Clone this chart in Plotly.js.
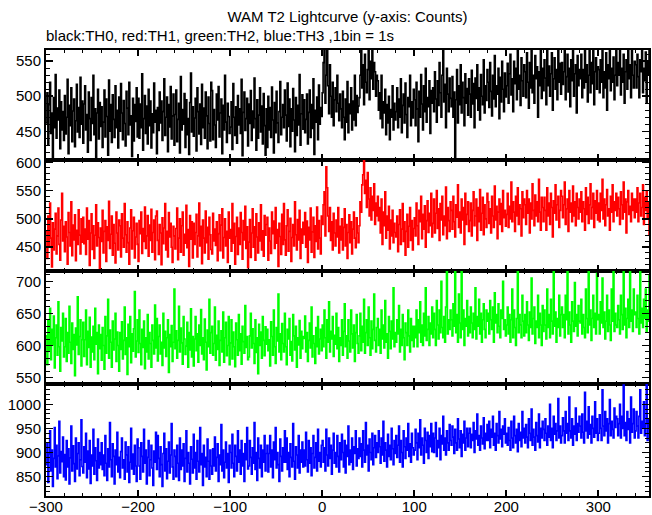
<!DOCTYPE html>
<html>
<head>
<meta charset="utf-8">
<script src="https://cdn.plot.ly/plotly-3.0.1.min.js"></script>
<style>html,body{margin:0;padding:0;background:#fff;}#chart{width:652px;height:515px;}</style>
</head>
<body>
<div id="chart"></div>
<script>
// Time bins start at -300 s, 1 bin = 1 s
var tStart = -300;
var th0 = [
462,505,431,488,520,447,476,413,498,455,531,440,483,466,509,425,492,452,478,437,
501,446,470,524,418,487,458,512,435,479,496,428,465,517,449,484,441,527,460,493,
433,489,515,452,474,420,506,468,437,498,461,530,445,482,412,476,510,439,491,457,
485,427,463,509,442,496,471,416,523,450,488,434,502,467,441,515,455,480,426,499,
450,518,476,438,494,461,429,507,483,445,520,459,472,414,497,436,488,464,512,442,
497,440,489,455,532,423,468,501,447,486,432,510,458,493,426,475,448,519,463,480,
418,484,451,506,462,493,437,478,525,444,470,499,421,488,456,514,439,472,503,430,
474,509,435,467,490,419,528,452,481,460,504,427,495,445,468,417,491,533,449,485,
443,469,497,422,512,478,446,489,431,517,455,483,440,506,472,425,499,461,436,520,
508,438,481,459,427,503,466,514,442,476,496,418,487,452,530,463,434,490,471,447,
456,492,424,518,470,444,485,433,501,459,482,447,524,415,477,506,451,468,497,429,
489,461,508,437,479,455,526,468,423,495,440,473,512,449,486,432,504,458,416,482,
427,500,452,484,441,513,466,419,491,448,507,462,434,478,521,445,470,488,455,509,
473,436,519,457,496,428,482,450,511,466,421,498,444,487,459,531,430,475,502,453,
495,448,467,503,432,477,509,441,488,454,525,417,480,463,499,438,516,460,484,471,
505,548,572,490,530,580,515,475,545,500,470,520,458,495,512,478,530,490,465,503,
482,455,507,470,438,496,463,521,448,489,475,512,452,493,466,530,458,501,477,486,
498,530,575,512,545,488,560,520,505,538,578,495,550,525,582,510,548,535,500,530,
522,480,505,468,530,455,492,476,510,445,488,462,500,438,481,470,515,452,490,466,
478,512,455,496,470,525,448,487,503,462,519,474,441,498,485,530,458,492,469,510,
495,458,520,482,435,507,470,531,489,452,515,478,540,463,498,485,522,447,508,490,
512,478,535,496,463,522,487,548,505,470,530,582,492,517,455,540,503,478,526,497,
485,528,470,506,412,495,538,462,515,488,545,476,520,498,458,532,490,511,473,525,
503,470,537,489,518,455,526,497,545,480,512,466,531,500,488,552,476,515,494,538,
520,484,548,507,472,530,496,558,485,515,503,540,468,527,492,550,510,478,533,499,
515,547,490,532,560,502,525,478,550,518,540,495,572,510,530,487,555,522,500,545,
535,498,562,520,483,548,512,575,505,530,490,558,525,542,470,535,515,565,497,540,
508,552,526,488,570,515,543,500,532,562,480,525,555,510,538,495,578,520,547,503,
548,517,535,575,495,528,560,506,540,485,552,522,568,500,532,545,476,558,515,538,
525,560,498,538,512,580,520,545,492,530,565,505,548,518,575,488,535,555,510,542,
538,505,552,520,570,498,535,512,562,480,545,525,578,508,540,520,556,495,530,565,
515,548,530,575,502,540,520,560,490,535,552,510,572,525,545,498,565,530,512,550,
545,512,560,528,498,552,535,570,505,540,522,563,490,548,530,575,510,538,520,555
];
var th1 = [
478,430,505,452,528,466,415,493,445,482,510,438,470,519,455,427,498,545,461,487,
442,495,468,420,511,476,452,530,435,489,463,507,426,480,455,516,471,438,500,459,
503,456,482,437,519,464,497,418,475,509,446,488,430,471,525,452,493,467,412,484,
460,515,440,478,497,425,486,462,531,448,473,505,436,490,457,422,512,475,445,498,
488,433,509,466,450,527,472,441,495,458,420,484,516,447,479,503,431,468,492,455,
425,497,474,512,439,483,460,521,448,470,506,434,489,462,517,441,476,498,428,505,
514,462,437,490,475,419,502,456,484,527,445,478,433,511,468,492,450,423,487,470,
447,483,519,428,466,500,441,488,512,436,473,457,524,449,481,416,506,464,495,431,
492,455,476,508,433,470,528,452,487,421,498,466,440,514,458,485,429,503,472,446,
438,510,461,482,453,495,426,474,507,444,489,518,431,467,500,452,478,423,512,466,
481,443,527,457,492,420,469,503,437,484,455,511,476,429,497,463,522,448,486,414,
459,499,432,475,518,450,486,427,509,468,440,493,461,525,445,479,434,506,471,490,
503,427,484,461,439,512,474,496,448,520,457,481,416,492,469,437,508,455,527,463,
436,488,516,443,478,501,425,467,490,452,530,472,445,499,463,515,430,482,457,494,
472,511,450,496,423,485,463,519,441,477,503,432,488,460,521,447,497,466,438,505,
490,525,548,470,592,555,505,478,520,462,495,445,510,475,452,498,468,520,440,487,
463,500,445,485,518,452,490,430,476,507,458,495,438,482,512,466,449,502,475,458,
488,530,512,560,578,610,545,568,520,582,535,505,555,498,540,515,562,490,528,505,
540,497,520,475,535,455,512,488,548,466,505,480,522,447,498,470,515,458,492,476,
468,505,442,490,516,455,482,527,460,495,436,478,508,450,487,520,462,497,445,483,
502,470,528,488,455,515,495,540,465,508,482,523,450,497,532,476,510,488,545,468,
492,535,475,510,550,483,518,462,527,498,540,472,505,488,556,465,520,497,478,530,
515,482,540,495,468,525,503,560,485,512,475,535,498,520,455,545,490,508,530,478,
497,528,470,515,548,488,505,535,462,520,495,552,480,510,538,472,525,500,485,545,
530,492,518,475,540,505,485,558,498,522,465,512,535,490,527,478,550,502,515,487,
508,545,485,522,500,565,495,530,512,478,540,505,555,490,525,518,470,548,502,535,
525,490,550,510,535,475,528,500,562,515,488,542,505,530,495,570,512,480,538,520,
495,538,515,480,555,505,528,490,545,520,468,532,510,560,498,525,540,485,515,550,
540,502,525,565,490,518,535,478,550,512,528,495,558,505,530,488,545,520,500,535,
512,548,495,530,518,480,555,508,538,492,525,562,500,520,545,485,532,510,550,498,
528,495,545,515,570,500,535,488,525,552,505,518,480,540,512,560,495,530,515,545,
505,538,518,490,548,525,500,565,512,535,475,530,550,508,522,495,545,515,535,502,
535,512,555,495,528,545,505,520,560,490,538,515,548,500,530,472,525,542,510,535
];
var th2 = [
615,570,640,592,658,578,625,601,646,565,612,632,585,668,598,560,628,607,650,582,
598,642,575,620,588,661,605,572,635,594,617,553,627,601,676,586,614,640,568,609,
636,583,609,655,570,622,597,644,566,613,590,630,578,658,602,620,556,632,595,617,
577,628,600,563,645,588,615,672,580,624,605,566,638,593,610,650,575,621,600,560,
620,594,637,579,608,660,586,612,555,633,598,645,573,618,591,626,684,582,607,640,
589,655,603,570,625,597,638,564,612,590,648,579,620,603,566,632,608,587,663,596,
642,576,614,632,587,605,569,650,596,622,583,612,640,558,617,598,631,575,605,688,
595,623,580,608,661,590,627,604,571,645,610,586,599,636,566,620,593,657,582,614,
568,610,645,592,618,574,632,600,656,587,612,578,641,605,562,624,598,672,588,620,
630,585,603,660,577,616,594,638,569,608,623,590,652,574,612,636,584,600,645,570,
604,640,579,621,598,567,635,609,585,648,592,618,571,630,606,588,662,597,614,578,
582,615,650,596,626,603,572,640,589,612,556,633,600,621,580,645,608,584,629,602,
625,592,609,568,637,614,585,655,598,572,628,607,680,590,618,578,634,603,590,650,
598,570,625,610,642,585,606,576,648,615,593,630,566,612,601,639,580,622,595,614,
611,646,590,620,575,608,635,596,660,582,615,603,572,628,598,645,587,610,625,592,
632,598,655,612,580,640,605,668,590,622,610,645,583,616,602,650,595,628,575,612,
600,640,585,622,665,598,615,580,640,607,590,655,618,596,632,575,620,648,603,588,
615,650,592,630,605,672,588,620,640,600,660,612,585,638,595,625,680,608,590,628,
642,600,625,588,655,610,632,596,670,605,618,580,645,622,595,638,610,690,598,620,
605,640,618,662,590,625,600,648,612,578,635,620,600,655,615,590,642,608,630,598,
630,612,655,598,640,620,668,605,632,600,650,615,690,608,625,645,600,635,618,660,
612,650,625,600,670,632,610,655,620,700,628,612,645,605,660,720,618,640,625,655,
640,615,665,630,720,620,648,605,680,635,612,718,625,655,600,642,630,670,615,645,
620,660,635,612,650,625,690,610,645,630,672,618,650,605,640,665,625,612,655,638,
650,618,670,640,625,660,605,682,635,648,620,665,630,612,655,642,700,625,640,615,
632,660,618,648,605,640,688,612,655,628,600,642,720,620,648,632,612,678,638,615,
648,620,668,632,608,652,628,705,618,642,660,603,638,628,678,612,650,632,600,662,
622,655,632,610,688,628,648,612,672,638,618,720,630,652,605,642,628,678,615,648,
660,628,648,612,678,640,720,618,652,632,605,668,638,622,698,630,648,615,662,638,
635,672,618,648,628,612,688,642,620,720,632,655,608,642,678,628,650,618,712,640,
648,618,668,635,705,628,652,610,638,678,622,655,632,608,688,638,718,622,650,632,
628,662,640,618,678,648,625,720,632,658,612,642,672,628,715,638,655,622,688,648,
652,628,678,642,618,720,635,658,628,672,642,688,622,655,638,710,632,662,648,628
];
var th3 = [
875,920,838,897,945,862,905,830,888,952,870,915,846,893,965,858,902,881,932,850,
896,843,925,870,908,835,889,955,862,914,877,840,930,866,898,920,852,885,968,871,
858,912,880,940,848,903,866,925,836,895,872,948,855,910,883,842,928,868,900,875,
920,865,895,852,935,878,842,908,870,962,885,850,918,892,835,905,875,942,860,890,
848,902,930,868,885,845,922,895,860,912,838,880,950,866,897,855,915,872,840,928,
910,872,845,920,892,860,948,878,905,835,890,925,852,885,915,868,832,903,880,942,
865,935,888,850,912,875,830,898,940,862,908,846,882,922,858,895,960,870,845,905,
892,850,915,878,842,930,865,905,872,918,840,888,945,860,900,878,835,912,886,858,
938,868,900,845,925,882,860,952,875,898,832,915,870,890,850,928,882,845,905,872,
855,908,872,932,862,890,918,840,895,875,958,862,905,848,880,922,868,898,838,915,
900,868,938,878,850,915,892,862,945,880,905,855,925,872,898,840,918,885,952,866,
872,925,890,855,910,878,962,865,900,842,930,888,868,915,850,905,880,935,862,898,
915,860,898,935,870,905,848,922,885,952,868,900,875,840,928,892,862,910,880,945,
880,930,865,900,850,918,890,870,960,882,845,912,895,868,935,858,905,880,922,870,
905,872,942,885,860,925,878,910,852,898,935,868,890,920,862,948,882,900,870,915,
925,880,910,862,948,895,872,930,888,915,855,905,940,878,900,870,935,892,860,920,
885,938,900,870,925,858,915,892,955,875,905,880,930,865,912,898,945,872,908,888,
930,892,918,870,945,905,880,962,895,915,862,928,900,885,940,875,910,935,890,920,
900,945,912,878,930,895,965,882,920,905,870,938,892,915,885,950,908,875,925,898,
935,890,915,955,880,925,900,870,945,912,888,930,905,960,892,918,880,940,910,895,
905,948,920,885,940,910,968,895,930,915,878,950,925,900,942,888,935,912,960,902,
940,900,930,962,892,925,910,950,885,935,918,975,905,930,895,945,920,905,958,925,
915,955,932,898,948,920,905,970,928,910,945,892,938,920,965,905,930,950,912,940,
950,910,938,925,962,900,945,928,980,915,935,905,955,930,918,972,908,940,925,958,
925,965,910,948,932,975,915,940,905,960,935,920,985,928,948,912,955,938,970,920,
940,915,952,925,905,965,930,910,975,935,920,948,902,960,925,942,912,985,930,950,
920,958,932,910,970,940,925,990,915,948,932,905,962,935,922,980,910,950,930,965,
948,925,970,940,915,955,932,1000,925,950,910,975,938,960,925,945,1012,930,955,920,
935,972,945,920,985,940,960,925,1015,945,930,970,915,955,938,992,925,960,942,975,
955,930,980,942,920,1025,945,965,930,995,938,958,920,975,950,932,1005,940,970,925,
940,978,950,925,1030,955,935,985,945,970,920,960,1010,935,965,948,930,992,952,975,
970,935,960,1000,930,975,950,1040,935,962,925,985,948,970,920,1015,942,960,990,930,
945,985,955,930,975,1030,940,965,952,1005,935,960,1045,925,970,950,995,932,960,980
];
var seriesNames = ['TH0','TH1','TH2','TH3'];
var seriesColors = ['#000000','#ff0000','#00ff00','#0000ff'];
var seriesData = [th0, th1, th2, th3];
var yRanges = [[409,566],[408,604],[540,716],[810,1042]];
var yTicks = [[450,500,550],[450,500,550,600],[550,600,650,700],[850,900,950,1000]];
var titleText = 'WAM T2 Lightcurve (y-axis: Counts)';
var subtitleText = 'black:TH0, red:TH1, green:TH2, blue:TH3 ,1bin = 1s';

var domains = [[0.7534,1],[0.5045,0.7534],[0.2511,0.5045],[0,0.2511]];
var font = {family:'Liberation Sans, Arial, sans-serif', size:15, color:'#000'};
var traces = [];
var layout = {
  width:652, height:515,
  margin:{l:46, r:3, t:50, b:19},
  paper_bgcolor:'#fff', plot_bgcolor:'#fff',
  showlegend:false,
  font:font,
  title:{text:titleText, x:0.5, xref:'paper', xanchor:'center', y:1-17/515, yref:'container', yanchor:'middle', font:{family:font.family, size:15, color:'#000'}},
  annotations:[{text:subtitleText, xref:'paper', yref:'paper', x:-0.004, xanchor:'left', y:1+15/446, yanchor:'middle', showarrow:false, font:{family:font.family, size:15, color:'#000'}}]
};
for (var k=0;k<4;k++){
  var xs = [];
  for (var i=0;i<seriesData[k].length;i++) xs.push(tStart+i);
  var sfx = k===0 ? '' : String(k+1);
  traces.push({x:xs, y:seriesData[k], type:'scatter', mode:'lines', name:seriesNames[k],
    line:{color:seriesColors[k], width:1.6, shape:'hv'}, xaxis:'x'+sfx, yaxis:'y'+sfx, hoverinfo:'skip'});
  layout['xaxis'+sfx] = {
    anchor:'y'+sfx, domain:[0,1], range:[-300,355], showgrid:false, zeroline:false,
    showline:true, linecolor:'#000', linewidth:2, mirror:'ticks',
    ticks:'inside', ticklen:6, tickwidth:2, tickcolor:'#000', dtick:100, tick0:0,
    minor:{ticks:'inside', ticklen:3, tickwidth:1, tickcolor:'#000', dtick:20, tick0:0, showgrid:false},
    showticklabels: k===3, tickfont:font, ticklabelstandoff:-4
  };
  layout['yaxis'+sfx] = {
    anchor:'x'+sfx, domain:domains[k], range:yRanges[k], showgrid:false, zeroline:false,
    showline:true, linecolor:'#000', linewidth:2, mirror:'ticks',
    ticks:'inside', ticklen:7, tickwidth:1.5, tickcolor:'#000', tickmode:'array', tickvals:yTicks[k],
    minor:{ticks:'inside', ticklen:4, tickwidth:1, tickcolor:'#000', dtick:10, tick0:0, showgrid:false},
    tickfont:font
  };
}
Plotly.newPlot('chart', traces, layout, {staticPlot:true, displayModeBar:false});
</script>
</body>
</html>
